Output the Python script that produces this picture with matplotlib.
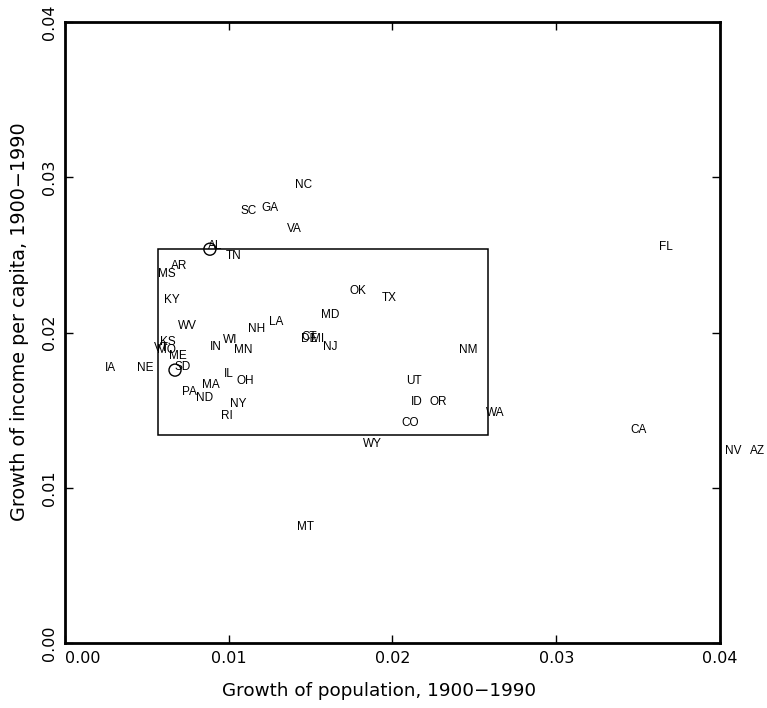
import matplotlib
matplotlib.use("Agg")
import matplotlib.pyplot as plt
from matplotlib.patches import Rectangle

# state labels placed at (population growth, income growth)
states = ["NC", "SC", "GA", "VA", "AL", "TN", "FL", "AR", "MS", "KY", "WV",
          "OK", "TX", "MD", "NH", "LA", "CT", "DE", "MI", "WI", "IN", "MN",
          "NJ", "NM", "KS", "VT", "MO", "ME", "SD", "IA", "NE", "IL", "OH",
          "UT", "MA", "PA", "ND", "ID", "OR", "NY", "WA", "RI", "CO", "CA",
          "WY", "NV", "AZ", "MT"]
pop_growth = [0.0146, 0.0112, 0.0125, 0.0140, 0.0092, 0.0103, 0.0367, 0.0070,
              0.0062, 0.0065, 0.0075, 0.0179, 0.0198, 0.0162, 0.0117, 0.0129,
              0.0149, 0.0149, 0.0154, 0.0101, 0.0092, 0.0109, 0.0162, 0.0246,
              0.0063, 0.0059, 0.0062, 0.0069, 0.0072, 0.0028, 0.0049, 0.0100,
              0.0110, 0.0213, 0.0089, 0.0076, 0.0085, 0.0215, 0.0228, 0.0106,
              0.0263, 0.0099, 0.0211, 0.0350, 0.0188, 0.0408, 0.0423, 0.0147]
inc_growth = [0.0295, 0.0278, 0.0280, 0.0267, 0.0256, 0.0249, 0.0255, 0.0243,
              0.0238, 0.0221, 0.0204, 0.0227, 0.0222, 0.0211, 0.0202, 0.0207,
              0.0197, 0.0196, 0.0196, 0.0195, 0.0191, 0.0189, 0.0191, 0.0189,
              0.0194, 0.0190, 0.0189, 0.0185, 0.0178, 0.0177, 0.0177, 0.0173,
              0.0169, 0.0169, 0.0166, 0.0162, 0.0158, 0.0155, 0.0155, 0.0154,
              0.0148, 0.0146, 0.0142, 0.0137, 0.0128, 0.0124, 0.0124, 0.0075]

# highlighted points (open circles)
circle_x = [0.00885, 0.00672]
circle_y = [0.02537, 0.01758]

# box bounds: x range, y range
box_x = [0.00568, 0.02583]
box_y = [0.01339, 0.02537]

fig = plt.figure(figsize=(7.67, 7.08), dpi=100)
ax = fig.add_axes([0.0847, 0.0918, 0.854, 0.877])

for s, x, y in zip(states, pop_growth, inc_growth):
    ax.text(x, y, s, ha="center", va="center", fontsize=8.5,
            family="Liberation Sans", clip_on=False)

ax.scatter(circle_x, circle_y, s=75, facecolors="none", edgecolors="black",
           linewidths=1.0, zorder=3)

ax.add_patch(Rectangle((box_x[0], box_y[0]), box_x[1] - box_x[0],
                       box_y[1] - box_y[0], fill=False, edgecolor="black",
                       linewidth=1.1))

ax.set_xlim(0, 0.04)
ax.set_ylim(0, 0.04)
ticks = [0.00, 0.01, 0.02, 0.03, 0.04]
ax.set_xticks(ticks)
ax.set_yticks(ticks)
ax.set_xticklabels([f"{t:.2f}" for t in ticks])
ax.set_yticklabels([f"{t:.2f}" for t in ticks], rotation=90, va="center")
ax.get_xticklabels()[0].set_horizontalalignment("left")
ax.tick_params(direction="in", length=6, width=1, top=True, right=True,
               labelsize=11.5, pad=6)
for sp in ax.spines.values():
    sp.set_linewidth(2)

ax.set_xlabel("Growth of population, 1900\u22121990", fontsize=13.2)
ax.set_ylabel("Growth of income per capita, 1900\u22121990", fontsize=13.8)
ax.xaxis.set_label_coords(0.48, -0.063)
ax.yaxis.set_label_coords(-0.055, 0.517)

plt.savefig("out.png", dpi=100)
